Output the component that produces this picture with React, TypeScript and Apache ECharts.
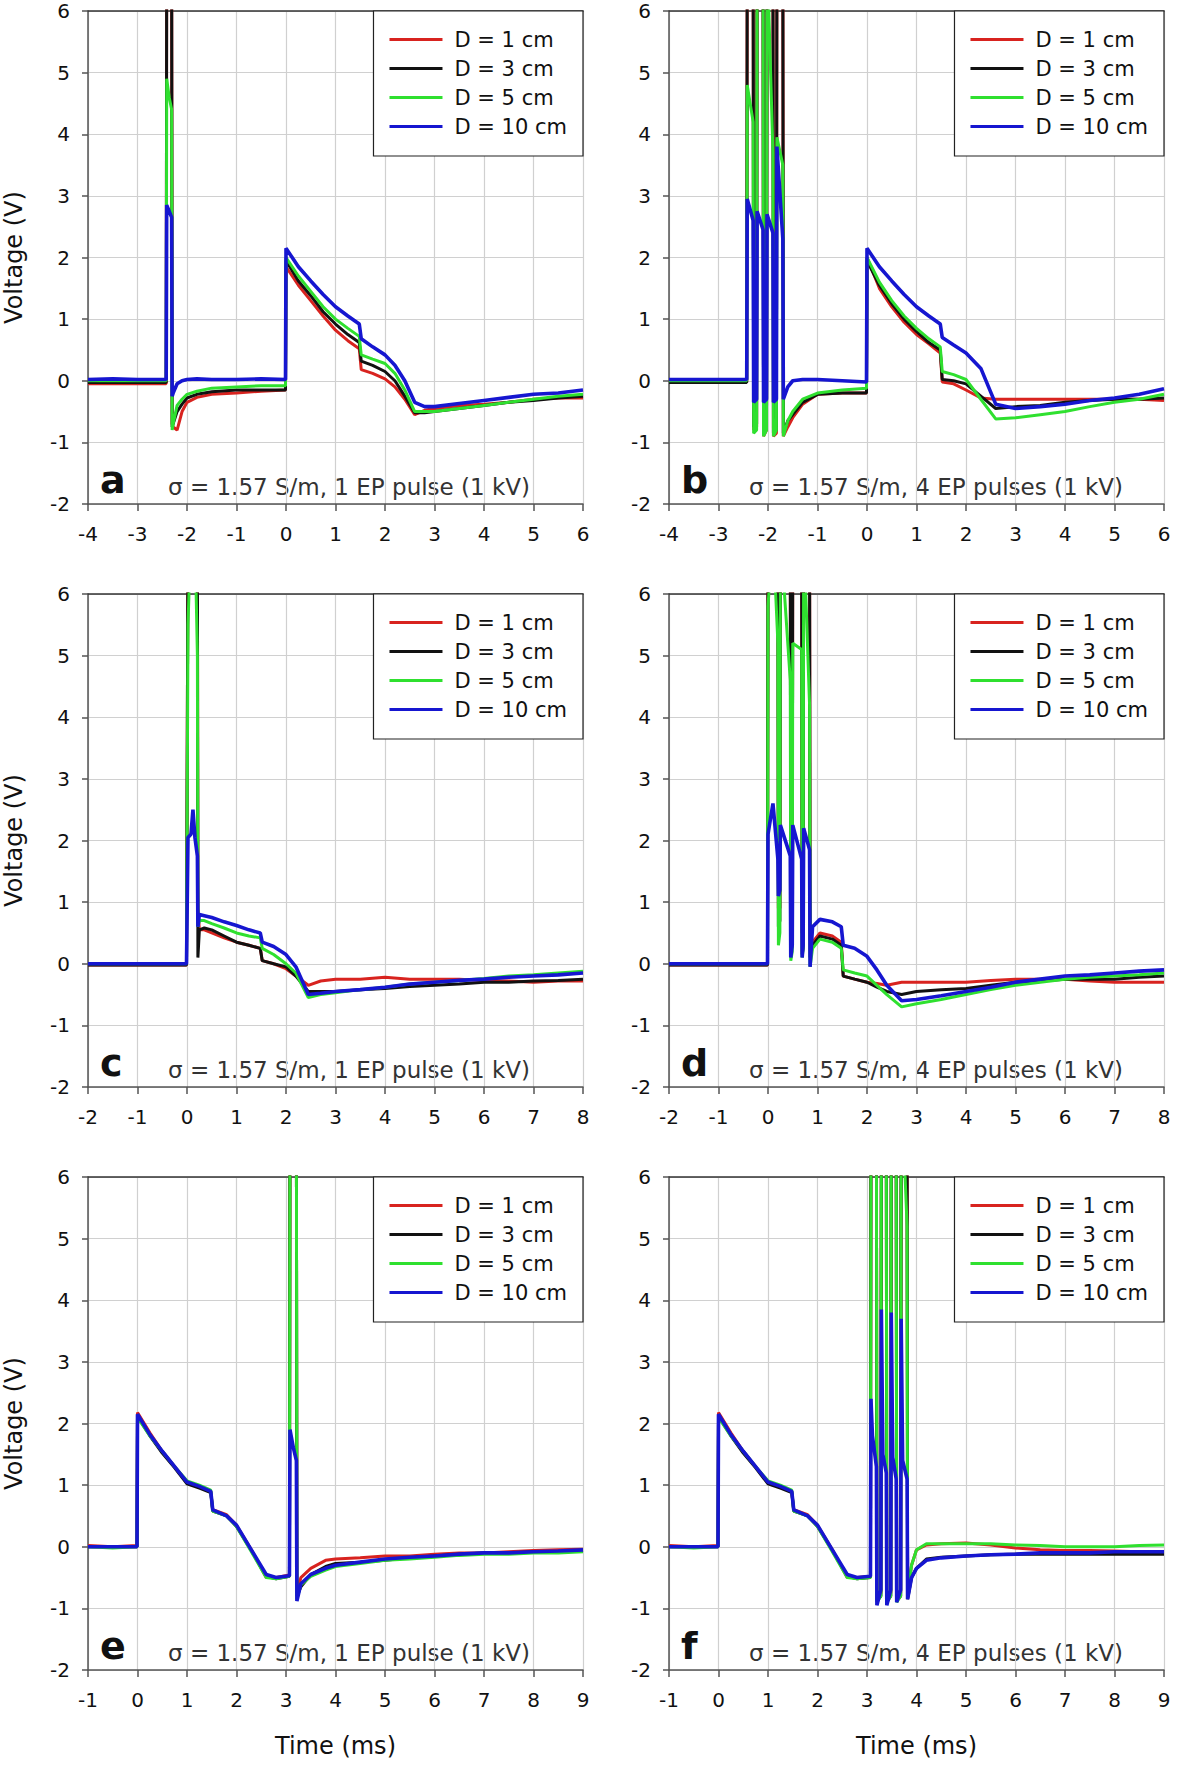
import React, { useEffect, useRef } from 'react';
import * as echarts from 'echarts';

const FONT = '"DejaVu Sans", "Liberation Sans", sans-serif';
const NAMES = ['D = 1 cm', 'D = 3 cm', 'D = 5 cm', 'D = 10 cm'];
const NOTE_1 = 'σ = 1.57 S/m, 1 EP pulse (1 kV)';
const NOTE_4 = 'σ = 1.57 S/m, 4 EP pulses (1 kV)';

// Panel a: 1 pulse before t=0, axis -4..6
const TA = [-4, -3.5, -3, -2.5, -2.42, -2.41, -2.36, -2.31, -2.3, -2.28, -2.2, -2.1, -2, -1.8, -1.5, -1, -0.5, -0.01, 0, 0.25, 0.5, 0.75, 1, 1.25, 1.48, 1.52, 1.75, 2, 2.2, 2.4, 2.6, 2.8, 3, 3.5, 4, 4.5, 5, 5.5, 6];
const A_RED = [-0.05, -0.05, -0.05, -0.05, -0.05, 7, 7, 7, -0.7, -0.75, -0.8, -0.5, -0.35, -0.27, -0.22, -0.2, -0.17, -0.15, 1.85, 1.55, 1.3, 1.05, 0.82, 0.65, 0.52, 0.18, 0.12, 0.03, -0.1, -0.3, -0.55, -0.48, -0.45, -0.4, -0.38, -0.35, -0.3, -0.28, -0.28];
const A_BLACK = [-0.03, -0.03, -0.03, -0.03, -0.03, 7, 7, 7, -0.75, -0.7, -0.5, -0.38, -0.28, -0.22, -0.18, -0.15, -0.15, -0.15, 1.95, 1.62, 1.38, 1.12, 0.92, 0.75, 0.62, 0.32, 0.25, 0.15, 0, -0.25, -0.52, -0.52, -0.5, -0.45, -0.4, -0.35, -0.32, -0.28, -0.25];
const A_GREEN = [0, 0, 0, 0, 0, 4.9, 4.6, 4.4, -0.8, -0.7, -0.4, -0.3, -0.22, -0.17, -0.12, -0.1, -0.08, -0.08, 2.0, 1.7, 1.45, 1.2, 1.0, 0.85, 0.72, 0.42, 0.35, 0.28, 0.12, -0.15, -0.5, -0.5, -0.5, -0.45, -0.4, -0.35, -0.3, -0.25, -0.22];
const A_BLUE = [0.02, 0.03, 0.02, 0.02, 0.02, 2.85, 2.75, 2.65, -0.25, -0.2, -0.05, 0, 0.02, 0.03, 0.02, 0.02, 0.03, 0.02, 2.15, 1.85, 1.62, 1.4, 1.2, 1.05, 0.92, 0.68, 0.55, 0.42, 0.25, 0, -0.35, -0.42, -0.42, -0.37, -0.32, -0.27, -0.22, -0.2, -0.15];

// Panel b: 4 pulses before t=0, axis -4..6
const TB = [-4, -3.5, -3, -2.5, -2.43, -2.42, -2.3, -2.29, -2.23, -2.22, -2.1, -2.09, -2.03, -2.02, -1.9, -1.89, -1.83, -1.82, -1.7, -1.69, -1.6, -1.5, -1.3, -1, -0.5, -0.01, 0, 0.25, 0.5, 0.75, 1, 1.25, 1.48, 1.52, 1.75, 2, 2.3, 2.6, 3, 3.5, 4, 4.5, 5, 5.5, 6];
const B_RED = [-0.02, -0.02, -0.02, -0.02, -0.02, 7, 7, -0.8, -0.75, 7, 7, -0.9, -0.8, 7, 7, -0.9, -0.85, 7, 7, -0.9, -0.75, -0.6, -0.38, -0.22, -0.2, -0.2, 2.0, 1.5, 1.2, 0.95, 0.75, 0.6, 0.45, -0.02, -0.05, -0.15, -0.28, -0.3, -0.3, -0.3, -0.3, -0.3, -0.3, -0.3, -0.32];
const B_BLACK = [-0.03, -0.03, -0.03, -0.03, -0.03, 7, 7, -0.75, -0.7, 7, 7, -0.85, -0.75, 7, 7, -0.85, -0.8, 7, 7, -0.85, -0.65, -0.55, -0.35, -0.22, -0.2, -0.2, 1.95, 1.55, 1.25, 1.0, 0.8, 0.62, 0.5, 0.02, 0, -0.05, -0.25, -0.45, -0.42, -0.4, -0.35, -0.32, -0.3, -0.3, -0.28];
const B_GREEN = [0, 0, 0, 0, 0, 4.8, 4.2, -0.85, -0.8, 7, 7, -0.9, -0.8, 7, 3.7, -0.9, -0.8, 3.95, 3.5, -0.9, -0.65, -0.5, -0.3, -0.2, -0.15, -0.12, 2.0, 1.6, 1.3, 1.05, 0.85, 0.68, 0.55, 0.15, 0.1, 0.02, -0.3, -0.62, -0.6, -0.55, -0.5, -0.42, -0.35, -0.3, -0.22];
const B_BLUE = [0.02, 0.02, 0.02, 0.02, 0.02, 2.95, 2.6, -0.35, -0.3, 2.75, 2.45, -0.35, -0.3, 2.7, 2.4, -0.35, -0.3, 3.8, 2.3, -0.3, -0.1, 0, 0.02, 0.02, 0, -0.02, 2.15, 1.85, 1.62, 1.4, 1.2, 1.05, 0.92, 0.7, 0.58, 0.45, 0.2, -0.38, -0.45, -0.42, -0.38, -0.32, -0.28, -0.22, -0.13];

// Panel c: 1 pulse at t=0, axis -2..8
const TC = [-2, -1.5, -1, -0.5, -0.01, 0.02, 0.08, 0.12, 0.16, 0.21, 0.22, 0.25, 0.35, 0.5, 0.75, 1, 1.25, 1.48, 1.52, 1.75, 2, 2.2, 2.45, 2.7, 3, 3.5, 4, 4.5, 5, 5.5, 6, 6.5, 7, 7.5, 8];
const C_RED = [-0.02, -0.02, -0.02, -0.02, -0.02, 7, 7, 7, 7, 7, 0.9, 0.55, 0.55, 0.5, 0.42, 0.35, 0.3, 0.25, 0.05, 0, -0.08, -0.2, -0.35, -0.28, -0.25, -0.25, -0.22, -0.25, -0.25, -0.25, -0.27, -0.28, -0.3, -0.28, -0.28];
const C_BLACK = [-0.02, -0.02, -0.02, -0.02, -0.02, 7, 7, 7, 7, 7, 0.1, 0.55, 0.58, 0.55, 0.45, 0.35, 0.3, 0.25, 0.05, 0, -0.05, -0.2, -0.45, -0.45, -0.45, -0.42, -0.4, -0.37, -0.35, -0.33, -0.3, -0.3, -0.28, -0.27, -0.25];
const C_GREEN = [0, 0, 0, 0, 0, 5.5, 7, 7, 7, 5.0, 0.6, 0.7, 0.7, 0.65, 0.58, 0.5, 0.45, 0.42, 0.25, 0.15, 0, -0.15, -0.55, -0.5, -0.47, -0.42, -0.38, -0.33, -0.3, -0.27, -0.24, -0.2, -0.18, -0.15, -0.12];
const C_BLUE = [0, 0, 0, 0, 0, 2.05, 2.1, 2.5, 2.05, 1.75, 0.6, 0.8, 0.78, 0.75, 0.68, 0.62, 0.55, 0.5, 0.35, 0.28, 0.15, -0.05, -0.5, -0.48, -0.45, -0.42, -0.38, -0.33, -0.3, -0.27, -0.25, -0.22, -0.2, -0.18, -0.15];

// Panel d: 4 pulses from t=0, axis -2..8
const TD = [-2, -1.5, -1, -0.5, -0.01, 0, 0.1, 0.2, 0.21, 0.24, 0.25, 0.45, 0.46, 0.49, 0.5, 0.68, 0.69, 0.71, 0.72, 0.84, 0.85, 0.9, 1.05, 1.3, 1.48, 1.52, 1.75, 2, 2.2, 2.4, 2.7, 3, 3.5, 4, 4.5, 5, 5.5, 6, 6.5, 7, 7.5, 8];
const D_RED = [-0.02, -0.02, -0.02, -0.02, -0.02, 7, 7, 7, 0.9, 0.9, 7, 7, 0.7, 0.7, 7, 7, 0.5, 0.5, 7, 7, 0.4, 0.35, 0.5, 0.45, 0.35, -0.2, -0.25, -0.3, -0.32, -0.35, -0.3, -0.3, -0.3, -0.3, -0.27, -0.25, -0.25, -0.25, -0.28, -0.3, -0.3, -0.3];
const D_BLACK = [-0.02, -0.02, -0.02, -0.02, -0.02, 7, 7, 7, 0.6, 0.7, 7, 7, 0.2, 0.3, 7, 7, 0.15, 0.25, 7, 7, 0.1, 0.3, 0.45, 0.4, 0.3, -0.2, -0.25, -0.3, -0.38, -0.45, -0.5, -0.45, -0.42, -0.4, -0.35, -0.3, -0.28, -0.25, -0.25, -0.25, -0.22, -0.2];
const D_GREEN = [0, 0, 0, 0, 0, 5.8, 7, 5.2, 0.3, 0.5, 7, 4.6, 0.05, 0.2, 5.2, 5.1, 0.1, 0.25, 7, 4.2, -0.05, 0.25, 0.4, 0.35, 0.25, -0.1, -0.15, -0.2, -0.35, -0.5, -0.7, -0.65, -0.58, -0.5, -0.42, -0.35, -0.3, -0.25, -0.22, -0.2, -0.18, -0.15];
const D_BLUE = [0, 0, 0, 0, 0, 2.1, 2.6, 1.7, 1.1, 1.2, 2.25, 1.75, 0.1, 0.3, 2.25, 1.7, 0.1, 0.3, 2.2, 1.85, -0.05, 0.6, 0.72, 0.68, 0.6, 0.3, 0.25, 0.12, -0.1, -0.35, -0.6, -0.58, -0.52, -0.45, -0.38, -0.3, -0.25, -0.2, -0.18, -0.15, -0.12, -0.1];

// Panel e: 1 pulse after t=3, axis -1..9
const TE = [-1, -0.5, -0.01, 0, 0.25, 0.5, 0.75, 1, 1.25, 1.48, 1.52, 1.8, 2, 2.3, 2.6, 2.8, 3.07, 3.08, 3.15, 3.21, 3.22, 3.3, 3.5, 3.8, 4, 4.5, 5, 5.5, 6, 6.5, 7, 7.5, 8, 8.5, 9];
const E_RED = [0.02, 0, 0.02, 2.18, 1.85, 1.55, 1.3, 1.05, 0.98, 0.9, 0.6, 0.52, 0.35, -0.05, -0.5, -0.5, -0.46, 7, 7, 7, -0.75, -0.5, -0.35, -0.22, -0.2, -0.18, -0.15, -0.15, -0.12, -0.1, -0.1, -0.08, -0.06, -0.05, -0.04];
const E_BLACK = [0, 0, 0, 2.12, 1.8, 1.52, 1.28, 1.02, 0.95, 0.88, 0.58, 0.5, 0.33, -0.06, -0.48, -0.52, -0.48, 7, 7, 7, -0.8, -0.65, -0.45, -0.32, -0.27, -0.25, -0.22, -0.18, -0.15, -0.12, -0.1, -0.1, -0.08, -0.08, -0.06];
const E_GREEN = [0, -0.02, 0, 2.1, 1.8, 1.55, 1.3, 1.07, 1.0, 0.92, 0.58, 0.5, 0.33, -0.08, -0.5, -0.52, -0.48, 7, 7, 7, -0.85, -0.62, -0.48, -0.38, -0.32, -0.27, -0.22, -0.2, -0.17, -0.14, -0.12, -0.12, -0.1, -0.1, -0.08];
const E_BLUE = [0, 0, 0, 2.15, 1.82, 1.55, 1.3, 1.05, 0.98, 0.9, 0.6, 0.5, 0.35, -0.05, -0.45, -0.5, -0.47, 1.9, 1.6, 1.4, -0.88, -0.6, -0.45, -0.35, -0.3, -0.25, -0.2, -0.17, -0.15, -0.12, -0.1, -0.1, -0.08, -0.07, -0.05];

// Panel f: 4 pulses after t=3, axis -1..9
const TF = [-1, -0.5, -0.01, 0, 0.25, 0.5, 0.75, 1, 1.25, 1.48, 1.52, 1.8, 2, 2.3, 2.6, 2.8, 3.07, 3.08, 3.11, 3.19, 3.2, 3.28, 3.29, 3.32, 3.39, 3.4, 3.48, 3.49, 3.52, 3.59, 3.6, 3.68, 3.69, 3.72, 3.81, 3.82, 3.9, 4, 4.2, 4.5, 5, 5.5, 6, 6.5, 7, 7.5, 8, 8.5, 9];
const F_RED = [0.02, 0, 0.02, 2.18, 1.85, 1.55, 1.3, 1.05, 0.98, 0.9, 0.6, 0.52, 0.35, -0.05, -0.5, -0.5, -0.48, 7, 7, 7, -0.85, -0.75, 7, 7, 7, -0.85, -0.75, 7, 7, 7, -0.85, -0.75, 7, 7, 7, -0.75, -0.3, -0.05, 0.03, 0.05, 0.06, 0.03, -0.02, -0.05, -0.06, -0.06, -0.07, -0.08, -0.1];
const F_BLACK = [0, 0, 0, 2.12, 1.8, 1.52, 1.28, 1.02, 0.95, 0.88, 0.58, 0.5, 0.33, -0.06, -0.48, -0.52, -0.5, 7, 7, 7, -0.88, -0.8, 7, 7, 7, -0.9, -0.8, 7, 7, 7, -0.88, -0.8, 7, 7, 7, -0.85, -0.5, -0.35, -0.2, -0.17, -0.15, -0.13, -0.12, -0.12, -0.12, -0.12, -0.12, -0.12, -0.12];
const F_GREEN = [0, -0.02, 0, 2.1, 1.8, 1.55, 1.3, 1.07, 1.0, 0.92, 0.58, 0.5, 0.33, -0.08, -0.5, -0.52, -0.5, 7, 7, 7, -0.9, -0.8, 7, 7, 7, -0.9, -0.8, 7, 7, 7, -0.9, -0.8, 7, 7, 5.2, -0.8, -0.3, -0.05, 0.05, 0.05, 0.05, 0.05, 0.03, 0.02, 0, 0, 0, 0.02, 0.03];
const F_BLUE = [0, 0, 0, 2.15, 1.82, 1.55, 1.3, 1.05, 0.98, 0.9, 0.6, 0.5, 0.35, -0.05, -0.45, -0.5, -0.48, 2.4, 1.8, 1.3, -0.95, -0.7, 3.85, 1.5, 1.2, -0.95, -0.7, 3.8, 1.45, 1.1, -0.9, -0.7, 3.7, 1.4, 1.1, -0.85, -0.5, -0.35, -0.22, -0.18, -0.15, -0.13, -0.12, -0.1, -0.1, -0.1, -0.08, -0.08, -0.08];

const PANELS = [
  { t: TA, v: [A_RED, A_BLACK, A_GREEN, A_BLUE], xMin: -4, xMax: 6, letter: 'a', note: NOTE_1 },
  { t: TB, v: [B_RED, B_BLACK, B_GREEN, B_BLUE], xMin: -4, xMax: 6, letter: 'b', note: NOTE_4 },
  { t: TC, v: [C_RED, C_BLACK, C_GREEN, C_BLUE], xMin: -2, xMax: 8, letter: 'c', note: NOTE_1 },
  { t: TD, v: [D_RED, D_BLACK, D_GREEN, D_BLUE], xMin: -2, xMax: 8, letter: 'd', note: NOTE_4 },
  { t: TE, v: [E_RED, E_BLACK, E_GREEN, E_BLUE], xMin: -1, xMax: 9, letter: 'e', note: NOTE_1 },
  { t: TF, v: [F_RED, F_BLACK, F_GREEN, F_BLUE], xMin: -1, xMax: 9, letter: 'f', note: NOTE_4 },
];

const COLORS = ['#d8231f', '#111111', '#2fe02f', '#1616d0'];
const WIDTHS = [3, 3, 3, 3.6];
const GRID_LEFT = [88, 669];
const GRID_TOP = [11, 594, 1177];
const GRID_W = 495;
const GRID_H = 493;
const PAGE_W = 1180;

export default function App() {
  const ref = useRef<HTMLDivElement>(null);
  useEffect(() => {
    if (!ref.current) return;
    const chart = echarts.init(ref.current, null, { renderer: 'svg' });
    const grids: any[] = [];
    const xAxes: any[] = [];
    const topAxes: any[] = [];
    const yAxes: any[] = [];
    const series: any[] = [];
    const legends: any[] = [];
    const graphics: any[] = [];
    PANELS.forEach((p, i) => {
      const col = i % 2;
      const row = Math.floor(i / 2);
      const x0 = GRID_LEFT[col];
      const y0 = GRID_TOP[row];
      grids.push({ left: x0, top: y0, width: GRID_W, height: GRID_H });
      xAxes.push({
        gridIndex: i, type: 'value', min: p.xMin, max: p.xMax, interval: 1, position: 'bottom',
        axisLine: { show: true, onZero: false, lineStyle: { color: '#555', width: 1.5 } },
        axisTick: { show: true, length: 7, lineStyle: { color: '#555', width: 1.5 } },
        axisLabel: { margin: 20, fontFamily: FONT, fontSize: 20, color: '#111' },
        splitLine: { show: true, lineStyle: { color: '#d0d0d0', width: 1.2 } },
        name: row === 2 ? 'Time (ms)' : '', nameLocation: 'middle', nameGap: 64,
        nameTextStyle: { fontFamily: FONT, fontSize: 24, color: '#111' },
      });
      topAxes.push({
        gridIndex: i, type: 'value', min: p.xMin, max: p.xMax, interval: 1, position: 'top',
        axisLine: { show: true, onZero: false, lineStyle: { color: '#333', width: 1.5 } },
        axisTick: { show: false }, axisLabel: { show: false }, splitLine: { show: false },
      });
      yAxes.push({
        gridIndex: i, type: 'value', min: -2, max: 6, interval: 1,
        axisLine: { show: true, onZero: false, lineStyle: { color: '#555', width: 1.5 } },
        axisTick: { show: true, length: 6, lineStyle: { color: '#555', width: 1.5 } },
        axisLabel: { margin: 18, fontFamily: FONT, fontSize: 20, color: '#111' },
        splitLine: { show: true, lineStyle: { color: '#d0d0d0', width: 1.2 } },
        name: col === 0 ? 'Voltage (V)' : '', nameLocation: 'middle', nameGap: 62,
        nameTextStyle: { fontFamily: FONT, fontSize: 24, color: '#111' },
      });
      p.v.forEach((vals, k) => {
        series.push({
          type: 'line', name: NAMES[k], xAxisIndex: i, yAxisIndex: i,
          data: p.t.map((t, j) => [t, vals[j]]),
          showSymbol: false, symbol: 'none', clip: true, z: 2 + k,
          lineStyle: { color: COLORS[k], width: WIDTHS[k] },
          itemStyle: { color: COLORS[k] },
        });
      });
      legends.push({
        orient: 'vertical', right: PAGE_W - (x0 + GRID_W), top: y0,
        padding: [18, 16, 19, 16], itemWidth: 53, itemHeight: 3, itemGap: 8, icon: 'rect',
        backgroundColor: '#fff', borderColor: '#222', borderWidth: 1.2, selectedMode: false,
        textStyle: { fontFamily: FONT, fontSize: 21, color: '#111', lineHeight: 21, padding: [0, 0, 0, 7] },
        data: NAMES,
      });
      graphics.push({
        type: 'text', x: x0 + 12, y: y0 + 469,
        style: { text: p.letter, font: `bold 38px ${FONT}`, fill: '#111', align: 'left', verticalAlign: 'middle', textAlign: 'left', textVerticalAlign: 'middle' },
      });
      graphics.push({
        type: 'text', x: x0 + 80, y: y0 + 476,
        style: { text: p.note, font: `23px ${FONT}`, fill: '#333', align: 'left', verticalAlign: 'middle', textAlign: 'left', textVerticalAlign: 'middle' },
      });
    });
    chart.setOption({
      animation: false,
      backgroundColor: '#fff',
      grid: grids,
      xAxis: [...xAxes, ...topAxes],
      yAxis: yAxes,
      legend: legends,
      series,
      graphic: graphics,
    });
    return () => chart.dispose();
  }, []);
  return <div ref={ref} style={{ position: 'absolute', left: 0, top: 0, width: 1180, height: 1768, background: '#fff' }} />;
}
